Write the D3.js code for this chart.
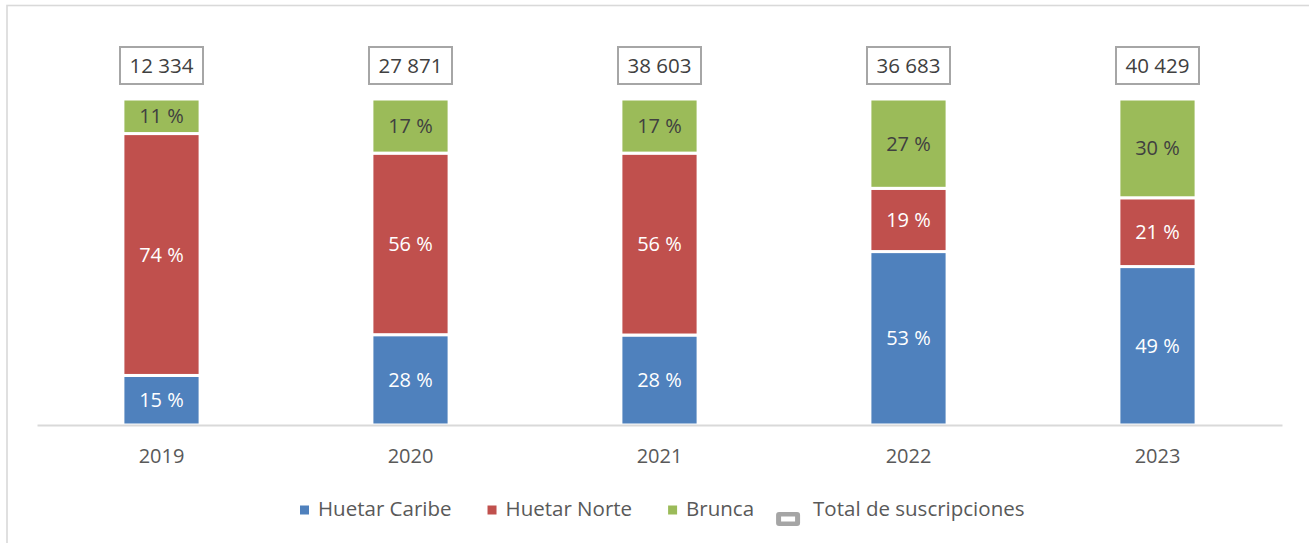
<!DOCTYPE html>
<html>
<head>
<meta charset="utf-8">
<script src="https://cdn.jsdelivr.net/npm/d3@7"></script>
<style>
  body { margin: 0; background: #fff; }
  svg { display: block; font-family: "Open Sans", sans-serif; }
</style>
</head>
<body>
<script>
// data (shares in %, totals in subscriptions)
var years = ["2019", "2020", "2021", "2022", "2023"];
var huetarCaribe = [15.2, 27.7, 27.6, 53.2, 48.6];
var huetarNorte = [74.2, 55.7, 55.8, 19.4, 21.1];
var brunca = [10.6, 16.6, 16.6, 27.4, 30.3];
var totals = [12334, 27871, 38603, 36683, 40429];
var seriesNames = ["Huetar Caribe", "Huetar Norte", "Brunca"];
var totalName = "Total de suscripciones";

var W = 1309, H = 543;
var colors = ["#4f81bd", "#c0504d", "#9bbb59"];
var labelColors = ["#ffffff", "#ffffff", "#404040"];

var rows = years.map(function(y, i) {
  return {year: y, "Huetar Caribe": huetarCaribe[i], "Huetar Norte": huetarNorte[i], "Brunca": brunca[i], total: totals[i]};
});

var svg = d3.select("body").append("svg")
    .attr("width", W)
    .attr("height", H);

// outer chart frame (cut by the window on the right and bottom)
svg.append("rect")
    .attr("x", 7).attr("y", 5.5)
    .attr("width", 1400).attr("height", 600)
    .attr("fill", "none")
    .attr("stroke", "#d9d9d9")
    .attr("stroke-width", 1.6);

var x = d3.scaleBand()
    .domain(years)
    .range([37, 1282])
    .paddingInner(0.69)
    .paddingOuter(0.345);

var y = d3.scaleLinear()
    .domain([0, 100])
    .range([425, 99]);

var stack = d3.stack().keys(seriesNames);
var layers = stack(rows);

var g = svg.append("g");

layers.forEach(function(layer, li) {
  g.selectAll(".seg" + li)
      .data(layer)
    .enter().append("rect")
      .attr("x", function(d) { return x(d.data.year); })
      .attr("width", x.bandwidth())
      .attr("y", function(d) { return y(d[1]); })
      .attr("height", function(d) { return y(d[0]) - y(d[1]); })
      .attr("fill", colors[li])
      .attr("stroke", "#ffffff")
      .attr("stroke-width", 3);

  g.selectAll(".lab" + li)
      .data(layer)
    .enter().append("text")
      .attr("x", function(d) { return x(d.data.year) + x.bandwidth() / 2; })
      .attr("y", function(d) { return (y(d[0]) + y(d[1])) / 2; })
      .attr("dy", "0.35em")
      .attr("text-anchor", "middle")
      .attr("fill", labelColors[li])
      .style("font-size", "20px")
      .text(function(d) { return Math.round(d[1] - d[0]) + " %"; });
});

// x axis
var axis = svg.append("g")
    .attr("transform", "translate(0,425)")
    .call(d3.axisBottom(x).tickSize(0).tickSizeOuter(0));
axis.select(".domain")
    .attr("stroke", "#d9d9d9")
    .attr("stroke-width", 2);
axis.selectAll("text")
    .attr("y", 31)
    .attr("dy", "0.35em")
    .attr("fill", "#595959")
    .style("font-family", "Open Sans, sans-serif")
    .style("font-size", "20px");

// total boxes
var fmt = d3.formatLocale({decimal: ",", thousands: " ", grouping: [3], currency: ["", ""]}).format(",");
var boxes = svg.selectAll(".tot")
    .data(rows)
  .enter().append("g")
    .attr("transform", function(d) { return "translate(" + (x(d.year) + x.bandwidth() / 2) + ",65.5)"; });
boxes.append("rect")
    .attr("x", -41.5).attr("y", -18.5)
    .attr("width", 83).attr("height", 37)
    .attr("fill", "#fff")
    .attr("stroke", "#a6a6a6")
    .attr("stroke-width", 2);
boxes.append("text")
    .attr("text-anchor", "middle")
    .attr("dy", "0.35em")
    .attr("fill", "#404040")
    .style("font-size", "20.5px")
    .text(function(d) { return fmt(d.total); });

// legend
var leg = svg.append("g");
var items = seriesNames.map(function(n, i) { return {name: n, color: colors[i], box: false}; });
items.push({name: totalName, color: "#a5a5a5", box: true});

var lx = 300;
items.forEach(function(it) {
  var mw = it.box ? 24 : 9;
  if (it.box) {
    leg.append("rect")
        .attr("x", lx).attr("y", 512)
        .attr("width", mw).attr("height", 14)
        .attr("rx", 3)
        .attr("fill", it.color);
    leg.append("rect")
        .attr("x", lx + 5).attr("y", 516.5)
        .attr("width", mw - 10).attr("height", 5)
        .attr("fill", "#fff");
  } else {
    leg.append("rect")
        .attr("x", lx).attr("y", 505.5)
        .attr("width", mw).attr("height", 9)
        .attr("fill", it.color);
  }
  var t = leg.append("text")
      .attr("x", lx + mw + (it.box ? 13 : 9))
      .attr("y", 509)
      .attr("dy", "0.35em")
      .attr("fill", "#595959")
      .style("font-size", "20.5px")
      .text(it.name);
  var tw = t.node().getComputedTextLength();
  lx = lx + mw + (it.box ? 13 : 9) + tw + (items.indexOf(it) === 2 ? 22 : 36);
});
</script>
</body>
</html>
